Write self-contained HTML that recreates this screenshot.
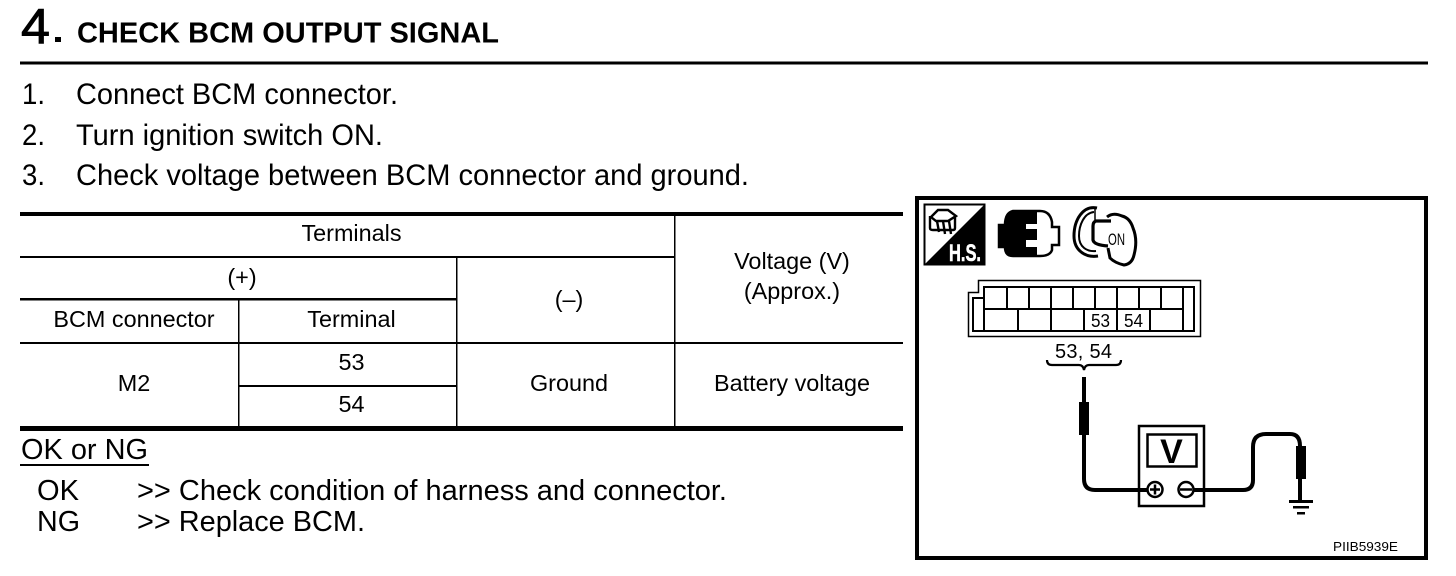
<!DOCTYPE html>
<html><head><meta charset="utf-8"><style>
html,body{margin:0;padding:0;background:#fff;width:1456px;height:576px;overflow:hidden}
svg{display:block}
text{font-family:"Liberation Sans",sans-serif;fill:#000}
.t{font-size:23.4px;text-anchor:middle}
.b{font-size:30px}
.c{font-size:28.5px}
</style></head><body>
<svg width="1456" height="576" viewBox="0 0 1456 576" xmlns="http://www.w3.org/2000/svg">
<!-- header -->
<text x="21" y="43" font-size="49" textLength="29" lengthAdjust="spacingAndGlyphs" style="stroke:#000;stroke-width:.9">4</text>
<rect x="55" y="37" width="6" height="5"/>
<text x="77" y="42.5" font-size="29" font-weight="bold" textLength="422" lengthAdjust="spacingAndGlyphs">CHECK BCM OUTPUT SIGNAL</text>
<rect x="20" y="61.5" width="1408" height="3"/>
<text class="b" x="22" y="104" textLength="23" lengthAdjust="spacingAndGlyphs">1.</text><text class="b" x="76" y="104" textLength="322" lengthAdjust="spacingAndGlyphs">Connect BCM connector.</text>
<text class="b" x="22" y="145" textLength="23" lengthAdjust="spacingAndGlyphs">2.</text><text class="b" x="76" y="145" textLength="307" lengthAdjust="spacingAndGlyphs">Turn ignition switch ON.</text>
<text class="b" x="22" y="185" textLength="23" lengthAdjust="spacingAndGlyphs">3.</text><text class="b" x="76" y="185" textLength="673" lengthAdjust="spacingAndGlyphs">Check voltage between BCM connector and ground.</text>
<!-- table -->
<g fill="#000">
<rect x="20" y="212" width="883" height="4"/>
<rect x="20" y="256" width="654" height="2"/>
<rect x="20" y="298" width="436" height="2.5"/>
<rect x="20" y="342" width="883" height="2"/>
<rect x="238" y="385" width="218" height="2"/>
<rect x="20" y="426" width="883" height="5"/>
<rect x="238" y="300" width="1.5" height="126"/>
<rect x="456" y="257" width="1.5" height="169"/>
<rect x="674" y="216" width="1.5" height="210"/>
</g>
<text class="t" x="351.5" y="241">Terminals</text>
<text class="t" x="242" y="285">(+)</text>
<text class="t" x="134" y="327">BCM connector</text>
<text class="t" x="351.5" y="327">Terminal</text>
<text class="t" x="569" y="307">(–)</text>
<text class="t" x="792" y="269">Voltage (V)</text>
<text class="t" x="792" y="299">(Approx.)</text>
<text class="t" x="134" y="391">M2</text>
<text class="t" x="351.5" y="370">53</text>
<text class="t" x="351.5" y="412">54</text>
<text class="t" x="569" y="391">Ground</text>
<text class="t" x="792" y="391">Battery voltage</text>
<!-- result -->
<text class="c" x="21" y="459" textLength="127" lengthAdjust="spacingAndGlyphs">OK or NG</text>
<rect x="20" y="464" width="129" height="2"/>
<text class="c" x="37" y="500" textLength="42" lengthAdjust="spacingAndGlyphs">OK</text>
<text class="c" x="137" y="500" textLength="590" lengthAdjust="spacingAndGlyphs">&gt;&gt; Check condition of harness and connector.</text>
<text class="c" x="37" y="531" textLength="43" lengthAdjust="spacingAndGlyphs">NG</text>
<text class="c" x="137" y="531" textLength="228" lengthAdjust="spacingAndGlyphs">&gt;&gt; Replace BCM.</text>
<!-- frame -->
<rect x="917" y="198" width="509" height="360" fill="none" stroke="#000" stroke-width="4"/>
<!-- HS icon -->
<polygon points="985,204 985,265 924,265" fill="#000"/>
<rect x="924.5" y="204.5" width="60" height="60" fill="none" stroke="#000" stroke-width="2"/>
<g fill="none" stroke="#000" stroke-width="2.4">
<path d="M931 217l7-7h10l8 6-8 5h-12z"/>
<path d="M930 216v12q0 2 3 2h20q2 0 2-2v-11"/>
<path d="M937 221l2 11M943 221l2 13M949 221l2 13"/>
</g>
<text x="949" y="261" font-size="24" font-weight="bold" style="fill:#fff;stroke:#fff;stroke-width:.6" textLength="32" lengthAdjust="spacingAndGlyphs">H.S.</text>
<!-- connector icon -->
<path d="M1013 211H1040Q1050 211 1052 222V227H1059V245H1052V250Q1050 256 1040 256H1013Q1005 256 1005 247H999V225H1005Q1005 213 1013 211Z" fill="#fff" stroke="#000" stroke-width="2.5"/>
<path d="M1013 210H1037V224H1026V229H1037V240H1026V247H1037V257H1013Q1005 256 1005 248V247H999V225H1005V218Q1006 212 1013 210Z" fill="#000"/>
<!-- key icon -->
<g fill="none" stroke="#000">
<path d="M1097 208C1083 205 1074 220 1074 236C1074 250 1085 258 1098 256" stroke-width="3"/>
<path d="M1094 212C1084 213 1079 225 1079 236C1079 247 1087 252 1096 251" stroke-width="2"/>
<path d="M1107 217Q1113 212 1122 216Q1130 218 1133 228Q1138 240 1134 255Q1132 264 1124 265Q1115 263 1110 258L1108 248" fill="#fff" stroke-width="3"/>
<path d="M1111 221H1096Q1093 222 1093 226V240Q1094 245 1108 246" stroke-width="3.2"/>
<path d="M1095 209V220" stroke-width="1.5"/>
</g>
<text x="1108" y="245" font-size="17" textLength="17" lengthAdjust="spacingAndGlyphs">ON</text>
<!-- connector diagram -->
<path d="M978.5 280.5H1200.5V336.5H968.5V292.5H978.5Z" fill="#fff" stroke="#000" stroke-width="1.5"/>
<g fill="none" stroke="#000" stroke-width="2">
<path d="M984 287H1194V331H973V298H984Z"/>
<path d="M984 287V331M984 309H1183"/>
<path d="M1007 287v22M1029 287v22M1051 287v22M1073 287v22M1095 287v22M1117 287v22M1139 287v22M1161 287v22M1183 287v44"/>
<path d="M1018 309v22M1051 309v22M1084 309v22M1117 309v22M1150 309v22"/>
</g>
<text x="1091" y="327" font-size="18" textLength="19" lengthAdjust="spacingAndGlyphs">53</text>
<text x="1124" y="327" font-size="18" textLength="19" lengthAdjust="spacingAndGlyphs">54</text>
<text x="1055" y="358" font-size="20" textLength="57" lengthAdjust="spacing">53, 54</text>
<path d="M1047 360q0 5 5 5h27q4 0 5 5 1-5 5-5h27q5 0 5-5" fill="none" stroke="#000" stroke-width="2.2"/>
<!-- probes/wires -->
<path d="M1084 377V479q0 11 11 11H1155" fill="none" stroke="#000" stroke-width="4"/>
<rect x="1079" y="402" width="10" height="33"/>
<path d="M1186 490H1243q10 0 10-10V447q0-13 13-13H1290q10 0 10 12v54" fill="none" stroke="#000" stroke-width="4"/>
<rect x="1296" y="446" width="10" height="33"/>
<rect x="1299.5" y="478" width="2.5" height="23"/>
<rect x="1289" y="500" width="24" height="3"/>
<rect x="1293" y="506" width="16" height="2.5"/>
<rect x="1297" y="512" width="8" height="2.5"/>
<!-- meter -->
<rect x="1139" y="426" width="65" height="80" fill="#fff" stroke="#000" stroke-width="2.5"/>
<rect x="1147.5" y="434.5" width="49" height="32" fill="#fff" stroke="#000" stroke-width="2.5"/>
<text x="1171.5" y="463" font-size="34" font-weight="bold" text-anchor="middle">V</text>
<path d="M1137 490H1155" stroke="#000" stroke-width="4"/>
<path d="M1186 490H1206" stroke="#000" stroke-width="4"/>
<circle cx="1155" cy="489.5" r="7.5" fill="#fff" stroke="#000" stroke-width="2.5"/>
<path d="M1150 489.5h10M1155 484.5v10" stroke="#000" stroke-width="2.5"/>
<circle cx="1186" cy="489.5" r="7.5" fill="#fff" stroke="#000" stroke-width="2.5"/>
<path d="M1180 489.5h12" stroke="#000" stroke-width="2.5"/>
<text x="1333" y="551" font-size="13" textLength="65" lengthAdjust="spacingAndGlyphs">PIIB5939E</text>
</svg>
</body></html>
